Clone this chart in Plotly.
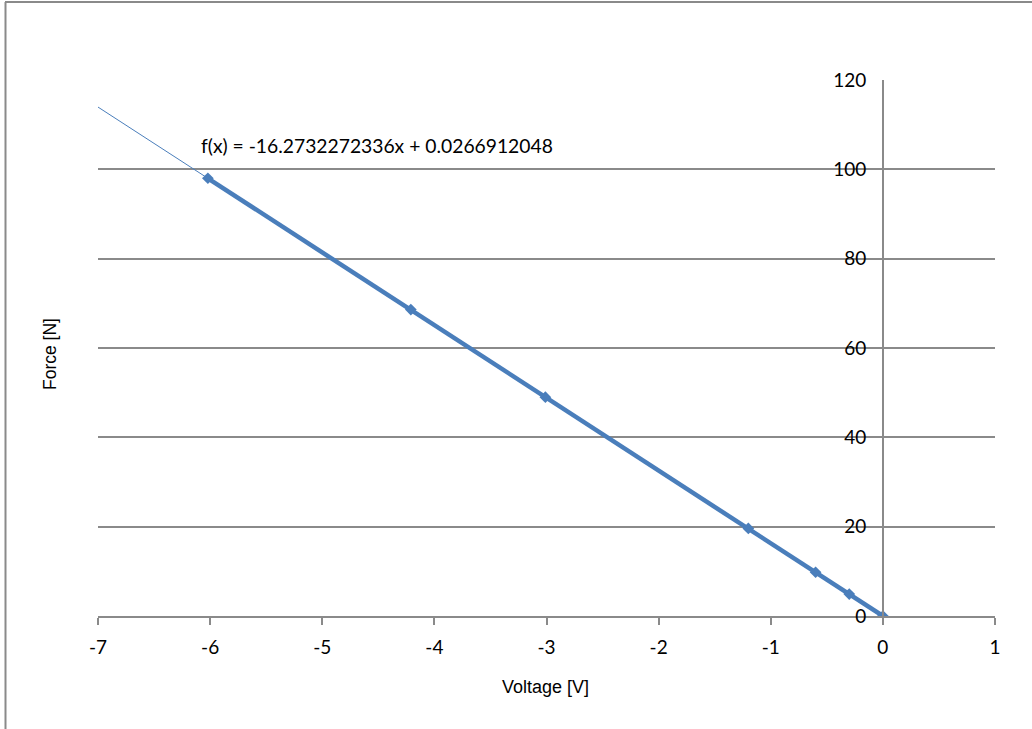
import plotly.graph_objects as go

# Data
voltage = [-6.02, -4.21, -3.01, -1.2, -0.6, -0.3, 0.0]
force = [98.0, 68.6, 49.0, 19.6, 9.8, 4.9, 0.0]

# Linear trendline coefficients shown on the chart
slope = -16.2732272336
intercept = 0.0266912048
trend_x = [-7.0, 0.0]
trend_y = [slope * x + intercept for x in trend_x]
equation = "f(x) = -16.2732272336x + 0.0266912048"

x_ticks = [-7, -6, -5, -4, -3, -2, -1, 0, 1]
y_ticks = [0, 20, 40, 60, 80, 100, 120]

blue = "#4a7ebb"
gray = "#8a8a8a"

W, H = 1032, 729
L, R, T, B = 98, 37, 80, 113
pw, ph = W - L - R, H - T - B

def px(xp):
    return (xp - L) / pw

def py(yp):
    return (H - B - yp) / ph

fig = go.Figure()
fig.add_trace(go.Scatter(x=trend_x, y=trend_y, mode="lines",
                         line=dict(color=blue, width=1), hoverinfo="skip",
                         showlegend=False))
fig.add_trace(go.Scatter(x=voltage, y=force, mode="lines+markers",
                         line=dict(color=blue, width=4.5),
                         marker=dict(symbol="diamond", size=9, color=blue),
                         showlegend=False))

fig.update_layout(
    width=W, height=H,
    margin=dict(l=L, r=R, t=T, b=B),
    paper_bgcolor="white", plot_bgcolor="white",
    font=dict(family="Lato, Liberation Sans, sans-serif", size=19, color="black"),
    xaxis=dict(range=[-7, 1], tickvals=x_ticks, ticktext=[str(v) for v in x_ticks],
               showgrid=False, zeroline=False, showline=True, linecolor=gray,
               linewidth=1.5, ticks="outside", ticklen=7, tickcolor=gray,
               tickwidth=1.5, ticklabelstandoff=6),
    yaxis=dict(range=[0, 120], tickvals=y_ticks, ticktext=[str(v) for v in y_ticks],
               anchor="free", position=7 / 8, side="left",
               showgrid=True, gridcolor=gray, gridwidth=1.5, zeroline=False,
               showline=True, linecolor=gray, linewidth=1.5, ticks="",
               ticklabelstandoff=12),
    showlegend=False,
)

fig.add_annotation(text=equation, xref="paper", yref="paper",
                   x=px(199), y=py(145), xanchor="left", yanchor="middle",
                   showarrow=False, font=dict(family="Lato, sans-serif", size=19.3))
fig.add_annotation(text="Voltage [V]", xref="paper", yref="paper",
                   x=px(545), y=py(687), xanchor="center", yanchor="middle",
                   showarrow=False,
                   font=dict(family="Liberation Sans, Arial, sans-serif", size=18))
fig.add_annotation(text="Force [N]", xref="paper", yref="paper",
                   x=px(50), y=py(354), xanchor="center", yanchor="middle",
                   textangle=-90, showarrow=False,
                   font=dict(family="Liberation Sans, Arial, sans-serif", size=17.5))

# Chart frame (top and left edges)
fig.add_shape(type="line", xref="paper", yref="paper",
              x0=px(5), x1=px(W + 5), y0=py(2), y1=py(2),
              line=dict(color=gray, width=2))
fig.add_shape(type="line", xref="paper", yref="paper",
              x0=px(5.5), x1=px(5.5), y0=py(2), y1=py(H + 5),
              line=dict(color=gray, width=2))

fig.write_html("out.html")
